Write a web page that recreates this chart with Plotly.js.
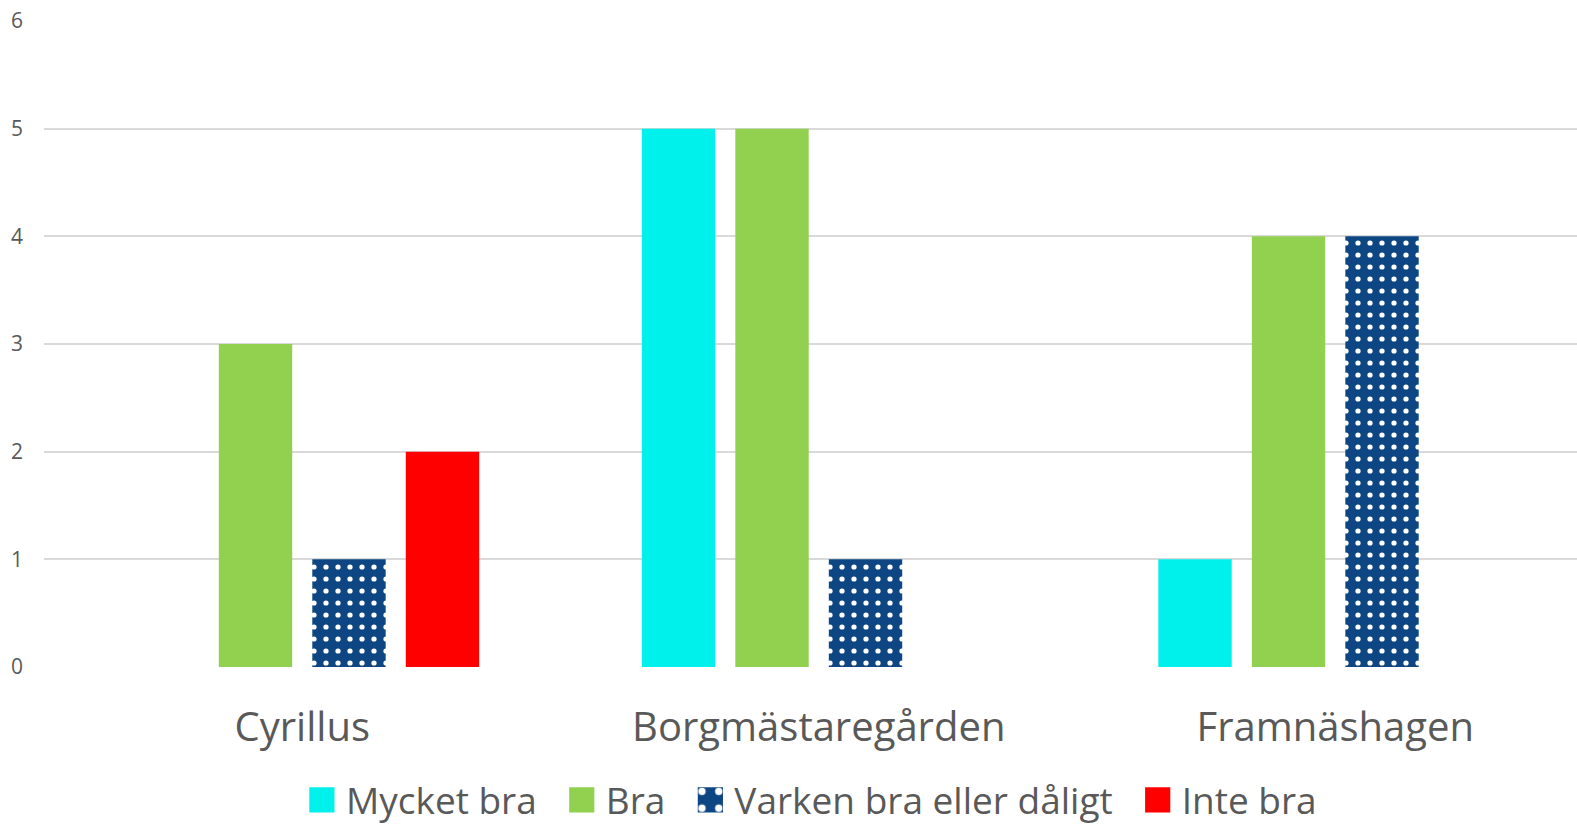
<!DOCTYPE html>
<html>
<head>
<meta charset="utf-8">
<script src="https://cdn.plot.ly/plotly-3.0.1.min.js"></script>
<style>html,body{margin:0;padding:0;background:#fff;}#chart{width:1577px;height:825px;}</style>
</head>
<body>
<div id="chart"></div>
<script>
const categories = ["Cyrillus", "Borgmästaregården", "Framnäshagen"];
const seriesNames = ["Mycket bra", "Bra", "Varken bra eller dåligt", "Inte bra"];
const mycketBra = [0, 5, 1];
const bra = [3, 5, 4];
const varken = [1, 1, 4];
const inteBra = [2, 0, 0];
const yTicks = [0, 1, 2, 3, 4, 5, 6];

const values = [mycketBra, bra, varken, inteBra];
const colors = ["#00F0EC", "#92D050", "#0E4683", "#FF0000"];

const traces = values.map((v, i) => {
  const marker = {color: colors[i], line: {width: 0}};
  if (i === 2) {
    marker.pattern = {shape: ".", fgcolor: "#FFFFFF", bgcolor: "#0E4683", size: 12, solidity: 0.15, fillmode: "replace"};
  }
  return {type: "bar", name: seriesNames[i], x: categories, y: v, marker: marker, hoverinfo: "none"};
});

const layout = {
  width: 1577, height: 825,
  margin: {l: 44, r: 0, t: 21, b: 158, autoexpand: false},
  paper_bgcolor: "#fff", plot_bgcolor: "#fff",
  barmode: "group",
  bargap: 0.276,
  bargroupgap: 0.215,
  font: {family: "Open Sans, sans-serif", color: "#595959"},
  xaxis: {
    range: [-0.5, 2.468], automargin: false,
    showgrid: false, zeroline: false, showline: false,
    ticks: "", tickfont: {size: 40, color: "#595959"},
    ticklabelstandoff: 33
  },
  yaxis: {
    range: [0, 6], tickvals: yTicks, ticktext: yTicks.map(String), automargin: false,
    showgrid: true, gridcolor: "#D9D9D9", gridwidth: 2,
    zeroline: false, showline: false, ticks: "",
    tickfont: {size: 21, color: "#595959"},
    ticklabelstandoff: 20
  },
  legend: {
    orientation: "h", x: 0.5085, xref: "container", xanchor: "center",
    y: 0.03, yref: "container", yanchor: "middle",
    font: {size: 37, color: "#595959"}, itemwidth: 54, traceorder: "normal"
  },
  showlegend: true
};

Plotly.newPlot("chart", traces, layout, {displayModeBar: false, staticPlot: true}).then(gd => {
  gd.querySelectorAll('.legend .legendpoints path').forEach(p => {
    p.setAttribute('transform', 'translate(40,0) scale(2.1)');
  });
});
</script>
</body>
</html>
